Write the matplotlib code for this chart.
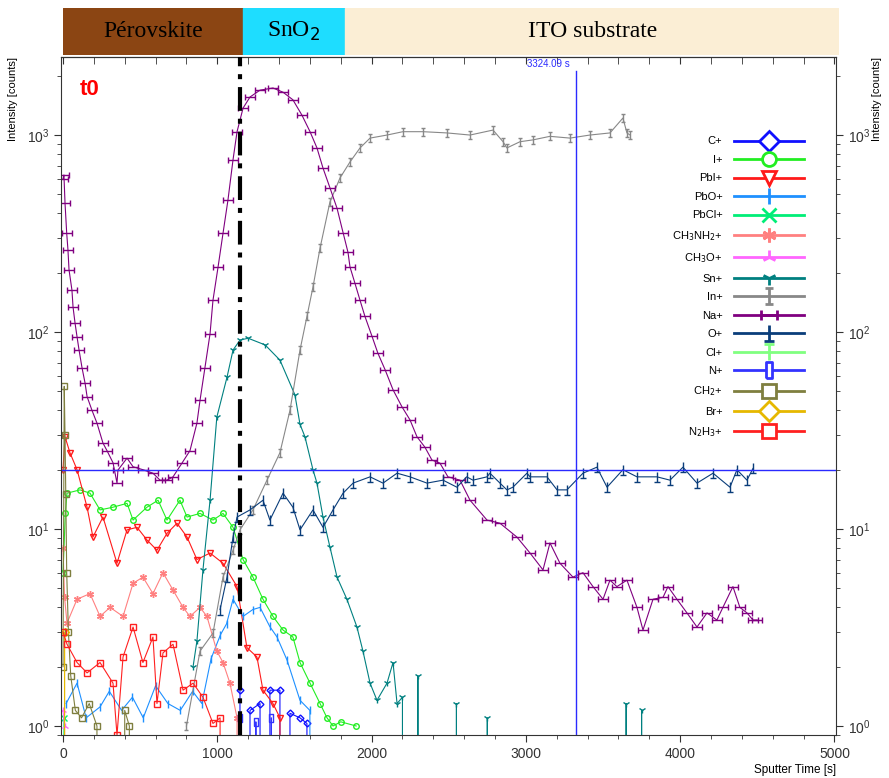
import numpy as np
import matplotlib.pyplot as plt
from matplotlib.path import Path
from matplotlib.lines import Line2D

# ---- data (sputter time [s], intensity [counts]) ----
na_t = [0, 6, 13, 24, 32, 39, 58, 65, 78, 91, 104, 123, 143, 156, 188, 220, 259, 285, 324, 350,
        356, 415, 454, 518, 583, 629, 674, 713, 771, 823, 868, 888, 920, 953, 972, 1005, 1037,
        1069, 1102, 1128, 1167, 1212, 1277, 1361, 1426, 1490, 1549, 1601, 1646, 1685, 1730,
        1776, 1815, 1847, 1860, 1892, 1925, 1957, 2003, 2041, 2087, 2139, 2197, 2249, 2294,
        2346, 2391, 2443, 2495, 2573, 2638, 2748, 2832, 2942, 3027, 3111, 3156, 3221, 3305,
        3370, 3435, 3500, 3545, 3590, 3655, 3720, 3759, 3824, 3889, 3921, 3979, 4044, 4109,
        4174, 4238, 4277, 4342, 4387, 4433, 4472, 4498]
na_i = [600, 627, 452, 317, 262, 207, 163, 134, 111, 94.5, 81, 66, 55, 47, 40, 34.5, 27.3, 25,
        21.7, 17.1, 19.9, 22.9, 20.7, 20, 19.2, 17.7, 17.7, 18.4, 21.6, 25, 34.5, 45, 66, 98,
        145, 214, 317, 467, 750, 1040, 1370, 1560, 1690, 1733, 1650, 1510, 1260, 1040, 860,
        680, 540, 425, 320, 254, 214, 177, 145, 120, 95, 78, 64.5, 50.9, 41.7, 35.8, 29.4, 26,
        22.4, 21.6, 18.4, 17.7, 14, 11.1, 10.7, 9.1, 7.55, 6.2, 8.5, 6.7, 5.7, 6, 5.1, 4.4, 5.5,
        5.1, 5.5, 4, 3.07, 4.4, 4.5, 5.1, 4.4, 3.75, 3.18, 3.75, 3.45, 4.0, 5.1, 4, 3.75, 3.45,
        3.45]

in_t = [800, 888, 972, 1037, 1102, 1147, 1231, 1322, 1406, 1471, 1536, 1581, 1620, 1666, 1730,
        1795, 1860, 1925, 1990, 2100, 2203, 2333, 2489, 2638, 2787, 2852, 2877, 2962, 3046,
        3156, 3286, 3415, 3545, 3629, 3655, 3675]
in_i = [1.0, 2.4, 2.96, 5.7, 7.8, 9.9, 12.5, 17.7, 24.4, 40, 81, 120, 169, 267, 457, 605, 730,
        860, 965, 1000, 1040, 1040, 1025, 1000, 1060, 925, 860, 925, 945, 985, 965, 1000, 1025,
        1220, 1025, 1000]

sn_t = [843, 868, 907, 953, 997, 1063, 1102, 1147, 1200, 1310, 1406, 1503, 1536, 1568, 1620,
        1646, 1685, 1730, 1776, 1840, 1905, 1944, 1990, 2035, 2100, 2139, 2165, 2200, 2240,
        2300, 2350, 2550, 2600, 2750, 2800, 3650, 3700, 3750, 3800]
sn_i = [2.0, 2.7, 6.2, 14, 37, 59, 81, 91, 93, 86, 72, 48, 34, 29.4, 20, 17.1, 11.5, 8.1, 5.7,
        4.4, 3.18, 2.4, 1.65, 1.35, 1.65, 2.1, 1.3, 1.4, 0, 1.8, 0, 1.3, 0, 1.1, 0, 1.3, 0, 1.2, 0]

o_t = [1018, 1063, 1102, 1128, 1212, 1296, 1341, 1426, 1490, 1536, 1620, 1685, 1750, 1815, 1880,
       1990, 2074, 2165, 2249, 2359, 2463, 2553, 2616, 2657, 2748, 2767, 2832, 2877, 2916,
       3007, 3027, 3137, 3202, 3266, 3370, 3460, 3526, 3629, 3720, 3850, 3934, 4018, 4109,
       4213, 4323, 4368, 4433, 4472]
o_i = [3.9, 5.7, 9.1, 11.5, 12.5, 14, 11.1, 15.2, 12.9, 9.9, 12.5, 10.2, 12.5, 15.2, 17.1, 18.4,
       17.1, 19.2, 18.4, 17.1, 17.7, 16.3, 18.4, 17.7, 18.4, 19.2, 17.1, 15.8, 16.3, 19.2, 18.4,
       18.4, 15.8, 15.8, 19.2, 20.6, 16.3, 20, 18.4, 18.4, 17.7, 20.6, 17.1, 19.2, 16.3, 20,
       17.7, 20.3]

i_t = [0, 15, 26, 110, 175, 240, 324, 415, 454, 544, 616, 674, 758, 804, 888, 972, 1037, 1102,
       1167, 1231, 1296, 1361, 1426, 1490, 1536, 1601, 1666, 1711, 1750, 1800, 1900]
i_i = [6, 12, 15.2, 15.8, 15.2, 12.5, 12.9, 13.5, 11.1, 12.9, 14, 11.1, 14, 11.5, 12, 11.1, 12,
       10.2, 7, 5.7, 4.4, 3.6, 3.07, 2.83, 2.1, 1.65, 1.3, 1.1, 1.0, 1.05, 1.0]

pbi_t = [0, 13, 45, 91, 156, 194, 259, 350, 415, 480, 544, 609, 674, 739, 804, 868, 953, 1037,
         1128, 1192, 1257, 1296, 1361, 1406, 1450]
pbi_i = [20, 29.4, 24.4, 20, 12.9, 9.1, 11.5, 6.7, 9.9, 10.2, 8.8, 7.8, 9.5, 10.7, 9.1, 7, 7.55,
         6.7, 5.1, 2.5, 2.24, 1.52, 1.3, 1.1, 0]

pbo_t = [20, 91, 150, 240, 300, 380, 450, 520, 600, 680, 760, 840, 900, 960, 1020, 1060, 1102,
         1167, 1230, 1277, 1340, 1387, 1452, 1536, 1600, 1650]
pbo_i = [1.3, 1.65, 1.1, 1.25, 1.5, 1.2, 1.4, 1.1, 1.6, 1.3, 1.2, 1.5, 1.3, 2.2, 2.9, 3.3, 4.4,
         3.6, 3.9, 4, 3.2, 2.83, 2.16, 1.35, 1.2, 0]

pbcl_t = [0, 8, 16]
pbcl_i = [0, 1.1, 0]

ch3nh2_t = [0, 10, 26, 91, 175, 240, 305, 389, 454, 518, 583, 648, 713, 778, 823, 888, 933, 997,
            1037, 1082, 1128, 1160]
ch3nh2_i = [8, 4.5, 3.33, 4.4, 4.7, 3.6, 4, 3.6, 5.3, 5.7, 4.7, 6, 4.9, 4, 3.6, 4, 3.6, 2.4,
            2.1, 1.65, 1.1, 0]

ch3o_t = [0, 10, 20]
ch3o_i = [1.2, 1.0, 0]

c_t = [1147, 1180, 1212, 1277, 1310, 1341, 1406, 1440, 1471, 1536, 1581, 1620]
c_i = [1.52, 0, 1.2, 1.3, 0, 1.52, 1.52, 0, 1.16, 1.1, 1.03, 0]

n_t = [1150, 1200, 1250, 1300, 1350, 1400]
n_i = [1.1, 0, 1.05, 0, 1.1, 0]

ch2_t = [0, 8, 13, 18, 24, 35, 50, 80, 120, 170, 220, 260, 400, 430, 500]
ch2_i = [2, 53, 30, 15, 6, 3, 1.8, 1.2, 1.1, 1.3, 1.0, 0, 1.2, 1.0, 0]

br_t = [0, 10, 20]
br_i = [0, 3, 0]

n2h3_t = [0, 26, 91, 156, 240, 324, 350, 389, 454, 518, 583, 609, 648, 713, 778, 843, 907, 972,
          1018, 1050]
n2h3_i = [3, 2.6, 2.1, 1.86, 2.1, 1.65, 0.9, 2.24, 3.18, 2.1, 2.83, 1.3, 2.35, 2.6, 1.52, 1.65,
          1.4, 1.03, 1.1, 0]

cl_t = []
cl_i = []

layer_names = ["Pérovskite", "SnO$_2$", "ITO substrate"]
layer_edges = [0, 1165, 1830, 5030]
layer_colors = ["#8B4513", "#1EDDFF", "#FBEED5"]

interface_t = 1150
cursor_t = 3324.09
cursor_level = 20

# ---- custom error-bar like markers ----
M, L = Path.MOVETO, Path.LINETO
ibeam = Path([(-0.5, 1), (0.5, 1), (0, 1), (0, -1), (-0.5, -1), (0.5, -1)], [M, L, M, L, M, L])
hbeam = Path([(-1, 0), (1, 0), (-1, -0.6), (-1, 0.6), (1, -0.6), (1, 0.6)], [M, L, M, L, M, L])
tee_down = Path([(0, 1), (0, -1), (-0.6, -1), (0.6, -1)], [M, L, M, L])
tee_up = Path([(0, -1), (0, 1), (-0.6, 1), (0.6, 1)], [M, L, M, L])
rect = Path([(-0.3, -0.8), (0.3, -0.8), (0.3, 0.8), (-0.3, 0.8), (-0.3, -0.8)], [M, L, L, L, L])

series = [
    ("C+", c_t, c_i, "#1010ff", "D", 3.5),
    ("I+", i_t, i_i, "#22ee22", "o", 4),
    ("PbI+", pbi_t, pbi_i, "#ff1a1a", "v", 4.5),
    ("PbO+", pbo_t, pbo_i, "#1e90ff", "|", 6),
    ("PbCl+", pbcl_t, pbcl_i, "#00ee77", "x", 4.5),
    ("CH$_3$NH$_2$+", ch3nh2_t, ch3nh2_i, "#ff8080", (6, 2, 0), 5),
    ("CH$_3$O+", ch3o_t, ch3o_i, "#ff66ff", "2", 5),
    ("Sn+", sn_t, sn_i, "#008080", "1", 5),
    ("In+", in_t, in_i, "#888888", ibeam, 6),
    ("Na+", na_t, na_i, "#800080", hbeam, 6.5),
    ("O+", o_t, o_i, "#0a3d7a", tee_down, 7),
    ("Cl+", cl_t, cl_i, "#80ff80", tee_up, 6),
    ("N+", n_t, n_i, "#3333ff", rect, 6),
    ("CH$_2$+", ch2_t, ch2_i, "#7f7f3f", "s", 4.5),
    ("Br+", br_t, br_i, "#e6b800", "D", 4),
    ("N$_2$H$_3$+", n2h3_t, n2h3_i, "#ff2020", "s", 5),
]

plt.rcParams['font.family'] = ['Liberation Sans', 'DejaVu Sans']

fig = plt.figure(figsize=(8.89, 7.78), dpi=100)
ax = fig.add_axes([61 / 889, 43 / 778, 775 / 889, 678 / 778])

handles = []
for name, t, y, col, mk, ms in series:
    if len(t):
        ax.plot(t, y, color=col, lw=0.8, marker=mk, ms=ms, mfc="none", mec=col, mew=1.0)
    handles.append(Line2D([], [], color=col, lw=2, marker=mk, ms=10 if ms < 6 else 11,
                          mfc="white", mec=col, mew=2, label=name))

ax.set_yscale("log")
ax.set_xlim(-13, 5010)
ax.set_ylim(0.9, 2490)

ax.axvline(interface_t, color="black", lw=3, ls=(0, (5.7, 1.9, 1.2, 1.9)), zorder=5)
ax.axvline(cursor_t, ymax=0.979, color="#2a2aff", lw=1)
ax.axhline(cursor_level, color="#2a2aff", lw=1)
ax.text(cursor_t - 40, 2300, "%.2f s" % cursor_t, color="#2a2aff", fontsize=7,
        ha="right", va="center")

ax.text(110, 1700, "t0", color="red", fontsize=16, fontweight="bold", va="center")

ax.set_xticks(np.arange(0, 5001, 1000))
ax.set_xticks(np.arange(0, 5001, 200), minor=True)
ax.tick_params(axis="both", which="both", direction="out", colors="#333333", labelsize=10)
ax.tick_params(axis="y", which="both", right=True, labelright=True)
ax.tick_params(which="major", length=5)
ax.tick_params(which="minor", length=3)
top = ax.secondary_xaxis("top")
top.set_xticks(np.arange(0, 5001, 1000))
top.set_xticks(np.arange(0, 5001, 200), minor=True)
top.tick_params(which="both", direction="in", labeltop=False, length=5, colors="#333333")
for s in ax.spines.values():
    s.set_color("#333333")

ax.set_xlabel("Sputter Time [s]", loc="right", fontsize=8.5, labelpad=2)
ax.set_ylabel("Intensity [counts]", loc="top", fontsize=8)
ax.yaxis.set_label_coords(-0.055, 1.0)
fig.text(877 / 889, 1 - 57 / 778, "Intensity [counts]", rotation=90, fontsize=8,
         ha="center", va="top")

ax.legend(handles=handles, loc="upper right", bbox_to_anchor=(808 / 889, 1 - 132 / 778),
          bbox_transform=fig.transFigure, frameon=False, markerfirst=False, fontsize=8,
          handlelength=6.3, labelspacing=0.765, handletextpad=1.0, borderaxespad=0)

# ---- layer band on top ----
band = fig.add_axes([63 / 889, 1 - 55 / 778, 776 / 889, 47 / 778])
for k, name in enumerate(layer_names):
    band.axvspan(layer_edges[k], layer_edges[k + 1], color=layer_colors[k])
    band.text((layer_edges[k] + layer_edges[k + 1]) / 2, 0.5, name, ha="center", va="center",
              fontsize=17, family="Liberation Serif")
band.set_xlim(layer_edges[0], layer_edges[-1])
band.set_ylim(0, 1)
band.axis("off")

fig.savefig("out.png", dpi=100)
